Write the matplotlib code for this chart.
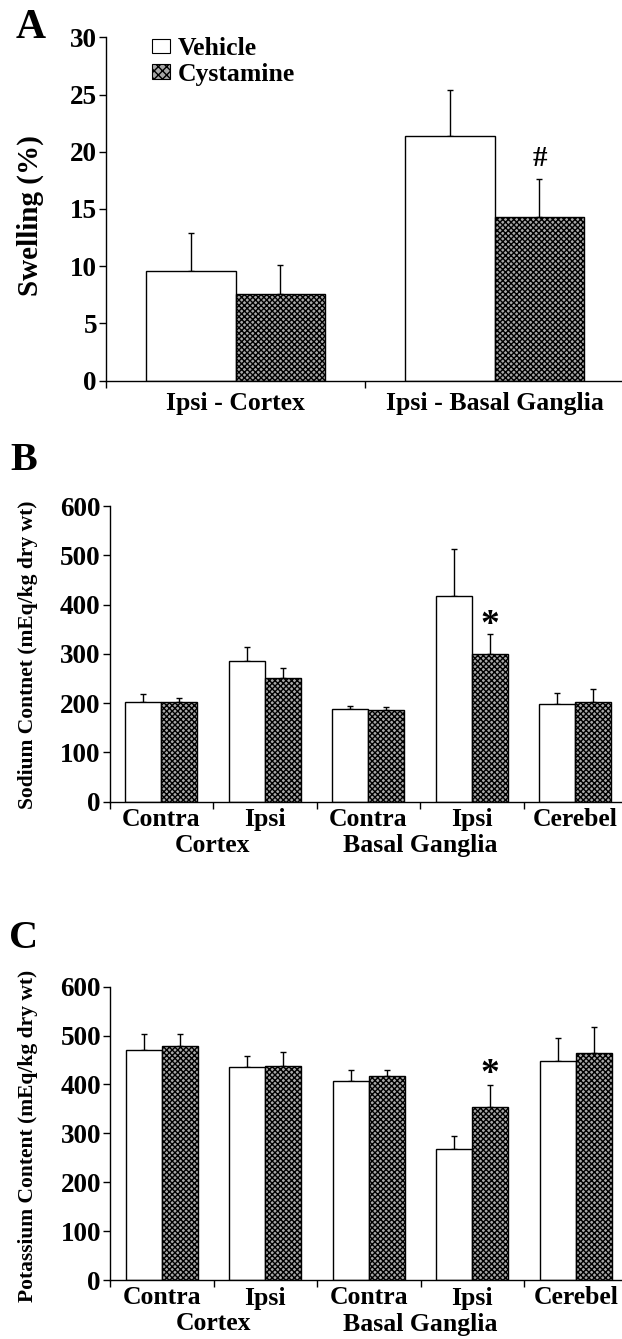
import matplotlib
matplotlib.use("Agg")
import matplotlib.pyplot as plt
import matplotlib.transforms as mtransforms
from matplotlib.patches import Patch
import numpy as np

plt.rcParams['font.family'] = ['Liberation Serif', 'DejaVu Serif']
plt.rcParams['font.weight'] = 'bold'
plt.rcParams['hatch.linewidth'] = 1.0

# ---------------- data ----------------
series_names = ["Vehicle", "Cystamine"]

a_categories = ["Ipsi - Cortex", "Ipsi - Basal Ganglia"]
a_vehicle = [9.6, 21.4]
a_vehicle_err = [3.3, 4.0]
a_cystamine = [7.6, 14.3]
a_cystamine_err = [2.5, 3.3]

bc_row1 = ["Contra", "Ipsi", "Contra", "Ipsi", "Cerebel"]
bc_row2 = ["Cortex", "Basal Ganglia"]

b_vehicle = [202, 285, 189, 418, 199]
b_vehicle_err = [17, 28, 5, 94, 22]
b_cystamine = [203, 252, 187, 300, 203]
b_cystamine_err = [7, 20, 5, 40, 26]

c_vehicle = [470, 436, 408, 267, 449]
c_vehicle_err = [33, 23, 21, 28, 47]
c_cystamine = [479, 438, 417, 354, 464]
c_cystamine_err = [24, 28, 13, 45, 54]

a_yticks = [0, 5, 10, 15, 20, 25, 30]
bc_yticks = [0, 100, 200, 300, 400, 500, 600]

# ---------------- figure ----------------
W, H = 622, 1339
fig = plt.figure(figsize=(W / 100, H / 100), dpi=100)


def px_axes(left, right, top, bottom):
    return fig.add_axes([left / W, 1 - bottom / H, (right - left) / W, (bottom - top) / H])


BW = 0.347
HATCH_FACE = '#a8a8a8'
TICK_FS = 19.5
XLAB_FS = 18.5


def draw_bars(ax, veh, veh_err, cys, cys_err):
    x = np.arange(len(veh)) + 0.5
    ax.bar(x - BW / 2, veh, BW, color='white', edgecolor='black', linewidth=1.0, zorder=2)
    ax.bar(x + BW / 2, cys, BW, color=HATCH_FACE, edgecolor='black', hatch='xxxxxx',
           linewidth=1.0, zorder=2)
    for xs, v, e in ((x - BW / 2, veh, veh_err), (x + BW / 2, cys, cys_err)):
        ax.errorbar(xs, v, yerr=[np.zeros(len(v)), e], fmt='none', ecolor='black',
                    elinewidth=1.0, capsize=2.4, capthick=1.0, zorder=1)
    return x


def style_axes(ax, ncat, ylim, yticks):
    ax.set_xlim(0, ncat)
    ax.set_ylim(*ylim)
    ax.spines['top'].set_visible(False)
    ax.spines['right'].set_visible(False)
    ax.spines['left'].set_linewidth(1.0)
    ax.spines['bottom'].set_linewidth(1.0)
    ax.set_yticks(yticks)
    ax.set_yticklabels([str(t) for t in yticks], fontsize=TICK_FS, fontweight='bold')
    ax.tick_params(axis='y', length=5, width=1.0, pad=1.5)
    ax.set_xticks(np.arange(0, ncat + 1))
    ax.set_xticklabels([])
    ax.tick_params(axis='x', length=5, width=1.0)
    ax.patch.set_alpha(0)


# ---------------- Panel A ----------------
axA = px_axes(106, 624, 37.3, 380.7)
xa = draw_bars(axA, a_vehicle, a_vehicle_err, a_cystamine, a_cystamine_err)
style_axes(axA, 2, (0, 30), a_yticks)
transA = mtransforms.blended_transform_factory(axA.transData, axA.transAxes)
for xi, lab in zip(xa, a_categories):
    axA.text(xi, -23 / 343.4, lab, transform=transA, ha='center', va='center',
             fontsize=XLAB_FS, fontweight='bold')
axA.annotate('#', xy=(xa[1] + BW / 2, a_cystamine[1] + a_cystamine_err[1]),
             xytext=(0, 5), textcoords='offset points', ha='center', va='bottom',
             fontsize=21, fontweight='bold')
fig.text(30 / W, 1 - 216 / H, 'Swelling (%)', rotation=90, ha='center', va='center',
         fontsize=21, fontweight='bold')
handles = [Patch(facecolor='white', edgecolor='black', linewidth=0.8, label=series_names[0]),
           Patch(facecolor=HATCH_FACE, edgecolor='black', hatch='xxxx', linewidth=0.8,
                 label=series_names[1])]
leg = fig.legend(handles=handles, loc='upper left', bbox_to_anchor=(152 / W, 1 - 37 / H),
                 frameon=False, fontsize=18.5, handlelength=0.7, handleheight=0.5,
                 handletextpad=0.3, labelspacing=0.1, borderpad=0, borderaxespad=0)
for t in leg.get_texts():
    t.set_fontweight('bold')
fig.text(31 / W, 1 - 28 / H, 'A', ha='center', va='center', fontsize=30, fontweight='bold')


# ---------------- Panels B and C ----------------
def panel_bc(top, bottom, left, veh, veh_err, cys, cys_err, ylabel, ylab_y, letter, letter_y, star_val):
    ax = px_axes(left, left + 5 * 103.5, top, bottom)
    x = draw_bars(ax, veh, veh_err, cys, cys_err)
    style_axes(ax, 5, (0, 600), bc_yticks)
    h = bottom - top
    tr = mtransforms.blended_transform_factory(ax.transData, ax.transAxes)
    for xi, lab in zip(x, bc_row1):
        ax.text(xi, -18 / h, lab, transform=tr, ha='center', va='center', fontsize=XLAB_FS,
                fontweight='bold')
    for xi, lab in zip([1, 3], bc_row2):
        ax.text(xi, -44 / h, lab, transform=tr, ha='center', va='center', fontsize=XLAB_FS,
                fontweight='bold')
    ax.text(x[3] + BW / 2, star_val, '*', ha='center', va='center', fontsize=27,
            fontweight='bold')
    fig.text(28 / W, 1 - ylab_y / H, ylabel, rotation=90, ha='center', va='center',
             fontsize=15.5, fontweight='bold')
    fig.text(24 / W, 1 - letter_y / H, letter, ha='center', va='center', fontsize=29,
             fontweight='bold')
    return ax


panel_bc(506, 801.7, 109.5, b_vehicle, b_vehicle_err, b_cystamine, b_cystamine_err,
         'Sodium Contnet (mEq/kg dry wt)', 655, 'B', 461, 358)
panel_bc(986.7, 1280, 110, c_vehicle, c_vehicle_err, c_cystamine, c_cystamine_err,
         'Potassium Content (mEq/kg dry wt)', 1136, 'C', 938, 421)

fig.savefig('out.png', dpi=100)
